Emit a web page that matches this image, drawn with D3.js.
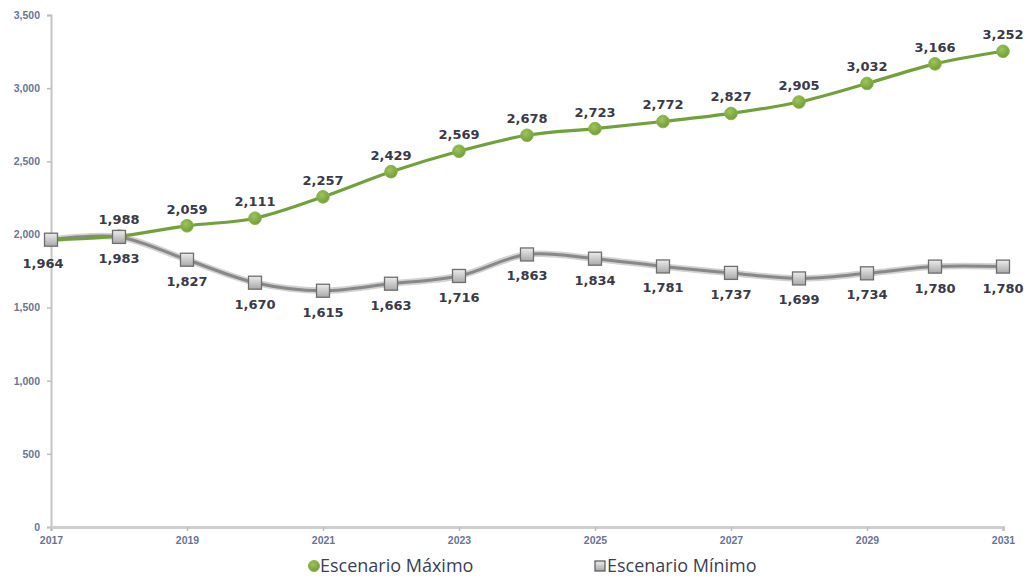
<!DOCTYPE html>
<html><head><meta charset="utf-8">
<script src="https://cdn.jsdelivr.net/npm/d3@7"></script>
<style>body{margin:0;background:#fff}</style>
</head><body><svg id="c" width="1029" height="577"></svg>
<script>
const years = [2017,2018,2019,2020,2021,2022,2023,2024,2025,2026,2027,2028,2029,2030,2031];
const maxValues = [1964,1988,2059,2111,2257,2429,2569,2678,2723,2772,2827,2905,3032,3166,3252];
const minValues = [1964,1983,1827,1670,1615,1663,1716,1863,1834,1781,1737,1699,1734,1780,1780];
const xTicks = [2017,2019,2021,2023,2025,2027,2029,2031];
const yTicks = [0,500,1000,1500,2000,2500,3000,3500];
const seriesNames = ["Escenario Máximo","Escenario Mínimo"];

const svg = d3.select("#c");
const x = d3.scaleLinear().domain([2017,2031]).range([51,1003]);
const y = d3.scaleLinear().domain([0,3500]).range([527,15]);
const fmt = d3.format(",");

const defs = svg.append("defs");
const g = defs.append("linearGradient").attr("id","sq").attr("x1",0).attr("y1",0).attr("x2",0).attr("y2",1);
g.append("stop").attr("offset","0%").attr("stop-color","#ececec");
g.append("stop").attr("offset","100%").attr("stop-color","#a8a8a8");
const gc = defs.append("radialGradient").attr("id","ci").attr("cx","40%").attr("cy","35%").attr("r","70%");
gc.append("stop").attr("offset","0%").attr("stop-color","#9cc65a");
gc.append("stop").attr("offset","100%").attr("stop-color","#6f9a35");

// axes
const yAxis = svg.append("g").attr("transform","translate(51,0)")
  .call(d3.axisLeft(y).tickValues(yTicks).tickSize(4).tickFormat(fmt));
const xAxis = svg.append("g").attr("transform","translate(0,527)")
  .call(d3.axisBottom(x).tickValues(xTicks).tickSize(4).tickFormat(d3.format("d")));
yAxis.select(".domain").attr("stroke","#c4c4c4").attr("stroke-width",2);
xAxis.select(".domain").attr("stroke","#cfcfcf").attr("stroke-width",3);
svg.selectAll(".tick line").attr("stroke","#bdbdbd").attr("stroke-width",1.5);
yAxis.selectAll("text").attr("font-family","Liberation Sans, sans-serif").attr("font-size",10.5)
  .attr("font-weight","bold").attr("fill","#6a7498").attr("dx",-4);
xAxis.selectAll("text").attr("font-family","Liberation Sans, sans-serif").attr("font-size",10.5)
  .attr("font-weight","bold").attr("fill","#6a7498").attr("dy",10);

const line = d3.line().x((d,i)=>x(years[i])).y(d=>y(d)).curve(d3.curveCatmullRom.alpha(0.5));

// min series shadow + line first
svg.append("path").datum(minValues).attr("d",line).attr("fill","none")
  .attr("stroke","#d2d2d2").attr("stroke-width",6.5);
svg.append("path").datum(minValues).attr("d",line).attr("fill","none")
  .attr("stroke","#888").attr("stroke-width",3);

// max series
svg.append("path").datum(maxValues).attr("d",line).attr("fill","none")
  .attr("stroke","#72a03a").attr("stroke-width",3.2);
svg.selectAll(".mx").data(maxValues).enter().append("circle")
  .attr("cx",(d,i)=>x(years[i])).attr("cy",d=>y(d)).attr("r",6.3)
  .attr("fill","url(#ci)").attr("stroke","#8ab84c").attr("stroke-width",1);

// min markers
svg.selectAll(".mn").data(minValues).enter().append("rect")
  .attr("x",(d,i)=>x(years[i])-6.5).attr("y",d=>y(d)-6.5).attr("width",13).attr("height",13)
  .attr("fill","url(#sq)").attr("stroke","#6e6e6e").attr("stroke-width",1.3);

// labels
const lab = {"font-family":"DejaVu Sans, sans-serif","font-size":13,"font-weight":"bold","fill":"#3a3a48"};
function applyLab(s){Object.entries(lab).forEach(([k,v])=>s.attr(k,v));return s;}
applyLab(svg.selectAll(".lmx").data(maxValues.slice(1)).enter().append("text")
  .attr("x",(d,i)=>x(years[i+1])).attr("y",d=>y(d)-12).attr("text-anchor","middle").text(d=>fmt(d)));
applyLab(svg.selectAll(".lmn").data(minValues).enter().append("text")
  .attr("x",(d,i)=>x(years[i]) - (i===0?8:0)).attr("y",(d,i)=>y(d)+26+(i===0?2:0))
  .attr("text-anchor","middle").text(d=>fmt(d)));

// legend
const leg = svg.append("g");
leg.append("circle").attr("cx",314).attr("cy",566).attr("r",5.5).attr("fill","url(#ci)").attr("stroke","#8ab84c");
leg.append("text").attr("x",320).attr("y",572).text(seriesNames[0])
  .attr("font-family","Open Sans, sans-serif").attr("font-size",18).attr("fill","#3a3f55");
leg.append("rect").attr("x",595).attr("y",561).attr("width",10).attr("height",10)
  .attr("fill","url(#sq)").attr("stroke","#555").attr("stroke-width",1.2);
leg.append("text").attr("x",607).attr("y",572).text(seriesNames[1])
  .attr("font-family","Open Sans, sans-serif").attr("font-size",18).attr("fill","#3a3f55");
</script></body></html>
